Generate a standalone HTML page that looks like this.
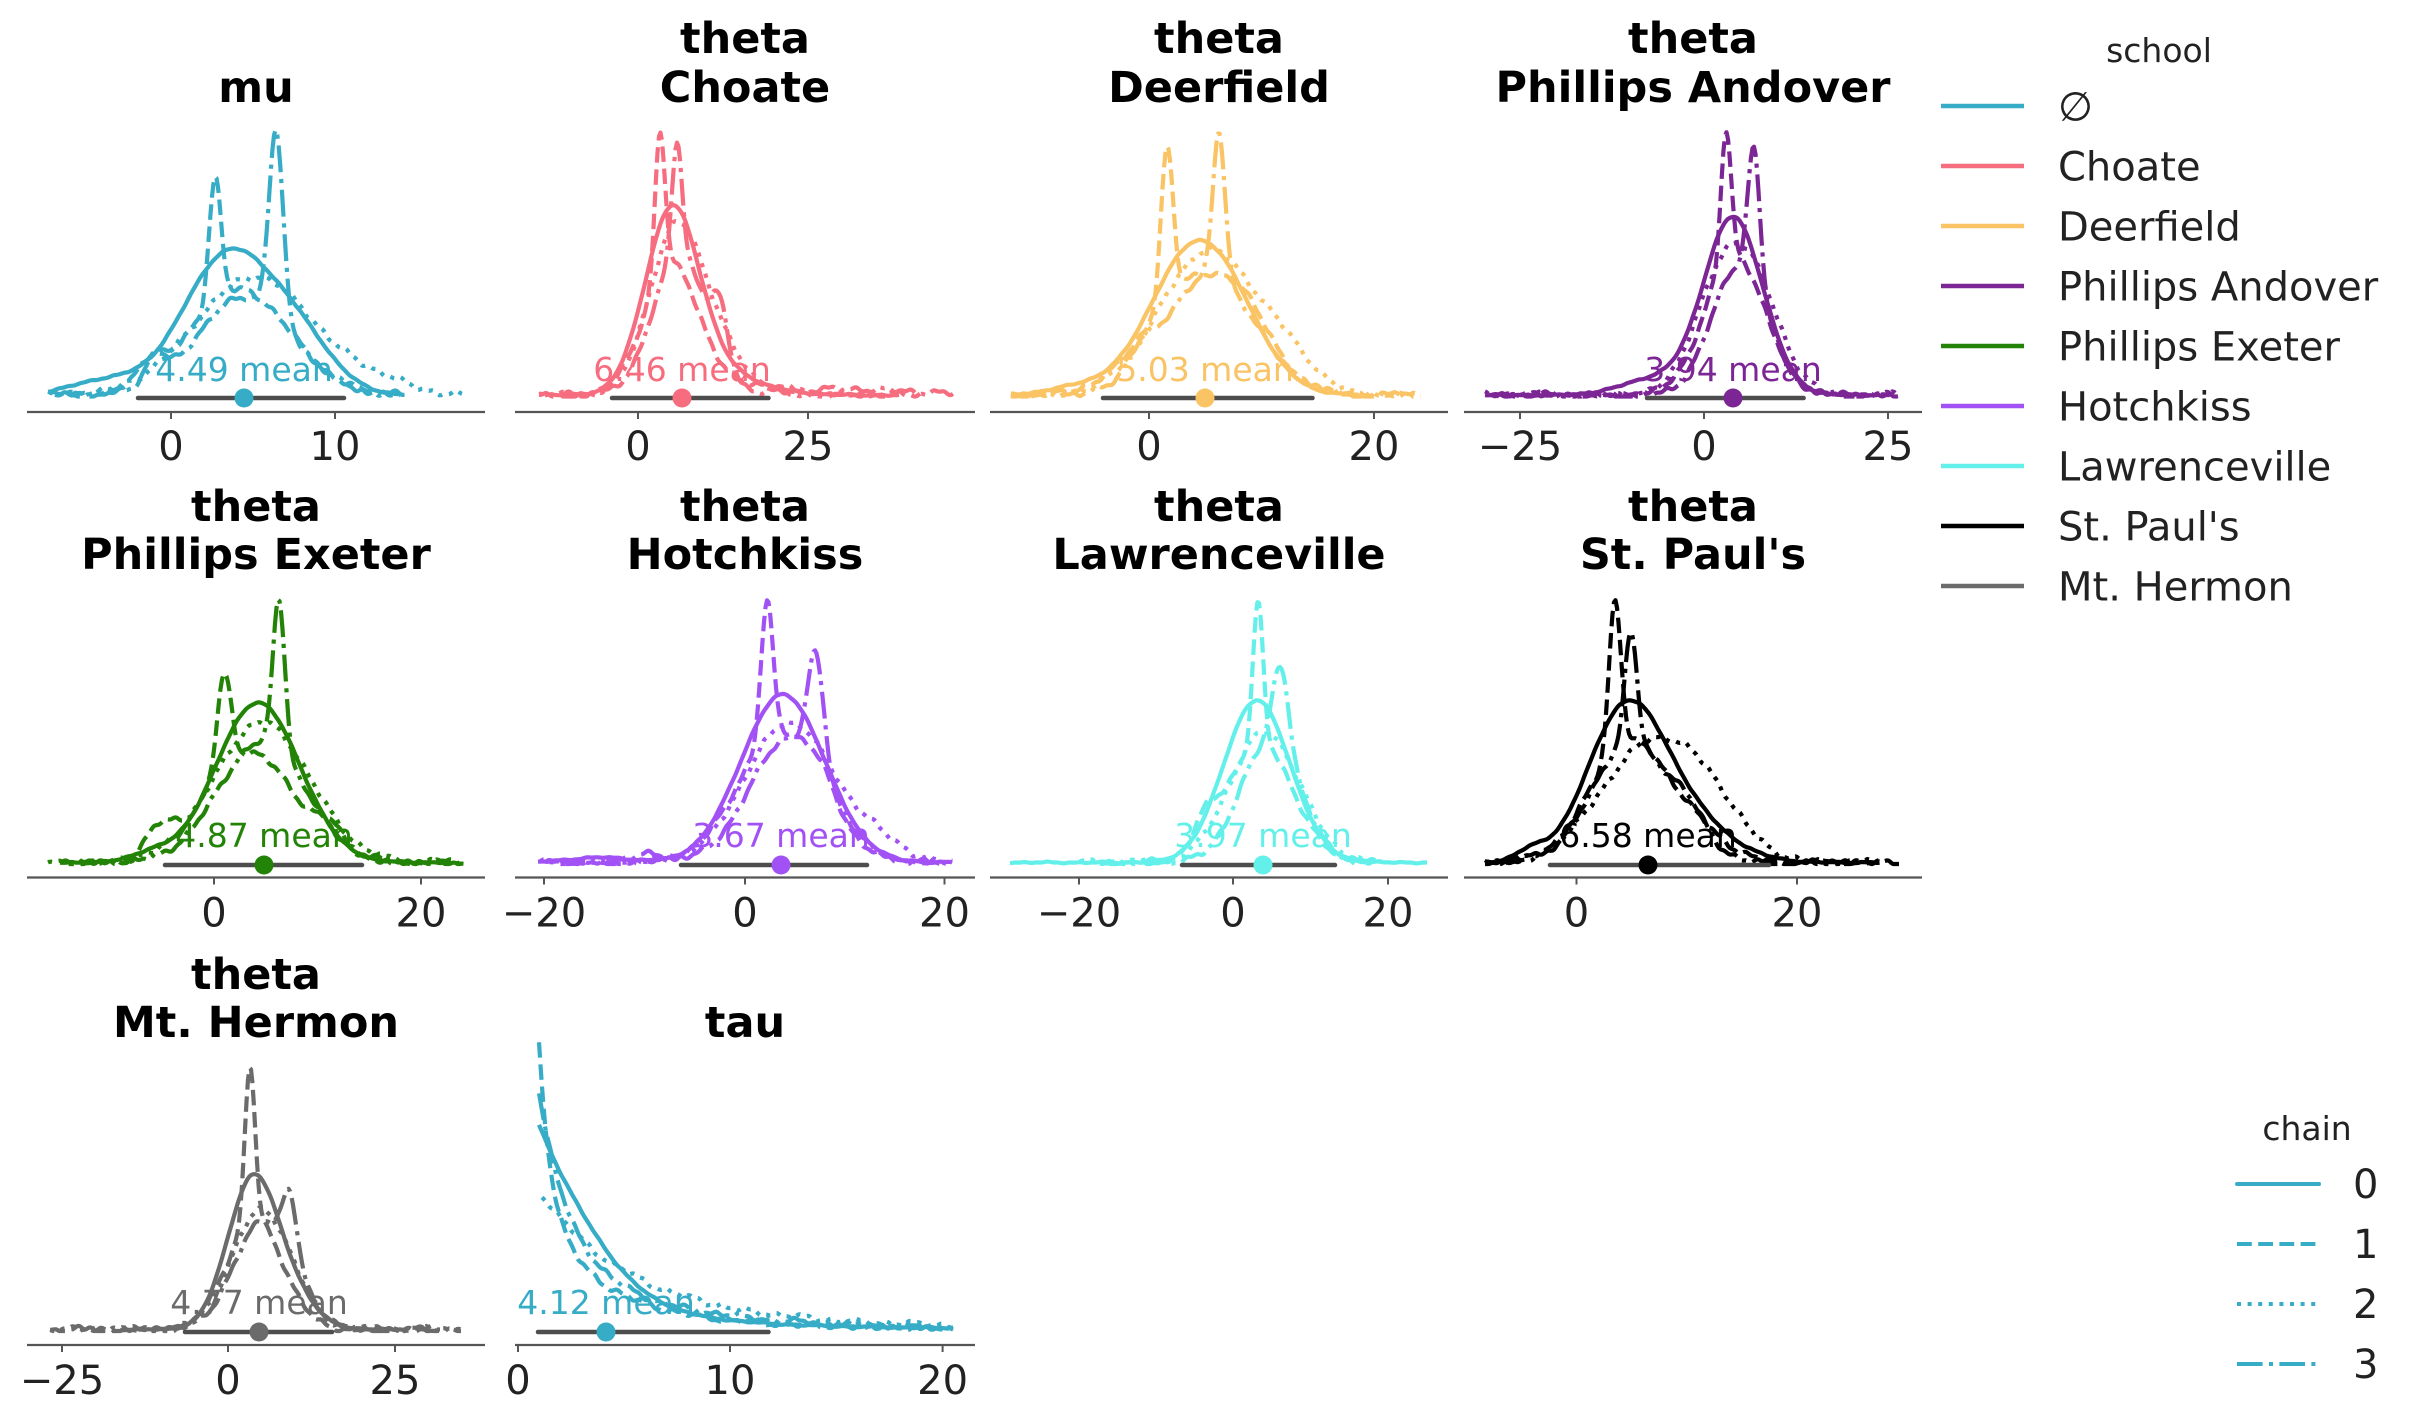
<!DOCTYPE html>
<html>
<head>
<meta charset="utf-8">
<style>
html,body{margin:0;padding:0;background:#fff;}
svg{display:block;}
text{font-family:"DejaVu Sans","Liberation Sans",sans-serif;}
.t{font-weight:bold;font-size:43px;fill:#000;text-anchor:middle;}
.k{font-size:40px;fill:#222;text-anchor:middle;}
.m{font-size:33px;text-anchor:middle;}
.l{font-size:40px;fill:#222;}
.lt{font-size:33px;fill:#222;text-anchor:middle;}
</style>
</head>
<body>
<svg id="c" xmlns="http://www.w3.org/2000/svg" width="2411" height="1423" viewBox="0 0 2411 1423">
<rect width="2411" height="1423" fill="#fff"/>

<!-- Titles -->
<g>
<text class="t" x="256" y="102">mu</text>
<text class="t" x="745" y="53">theta</text><text class="t" x="745" y="102">Choate</text>
<text class="t" x="1219" y="53">theta</text><text class="t" x="1219" y="102">Deerfield</text>
<text class="t" x="1693" y="53">theta</text><text class="t" x="1693" y="102">Phillips Andover</text>

<text class="t" x="256" y="521">theta</text><text class="t" x="256" y="569">Phillips Exeter</text>
<text class="t" x="745" y="521">theta</text><text class="t" x="745" y="569">Hotchkiss</text>
<text class="t" x="1219" y="521">theta</text><text class="t" x="1219" y="569">Lawrenceville</text>
<text class="t" x="1693" y="521">theta</text><text class="t" x="1693" y="569">St. Paul's</text>

<text class="t" x="256" y="989">theta</text><text class="t" x="256" y="1037">Mt. Hermon</text>
<text class="t" x="745" y="1037">tau</text>
</g>

<!-- Axes -->
<g stroke="#555" stroke-width="2.2" fill="none">
<line x1="27" y1="412" x2="485" y2="412"/>
<line x1="515" y1="412" x2="975" y2="412"/>
<line x1="990" y1="412" x2="1448" y2="412"/>
<line x1="1464" y1="412" x2="1922" y2="412"/>
<line x1="27" y1="877.5" x2="485" y2="877.5"/>
<line x1="515" y1="877.5" x2="975" y2="877.5"/>
<line x1="990" y1="877.5" x2="1448" y2="877.5"/>
<line x1="1464" y1="877.5" x2="1922" y2="877.5"/>
<line x1="27" y1="1345" x2="485" y2="1345"/>
<line x1="515" y1="1345" x2="975" y2="1345"/>
</g>
<!-- Tick marks -->
<g stroke="#555" stroke-width="2" fill="none">
<line x1="171" y1="412" x2="171" y2="419"/><line x1="335" y1="412" x2="335" y2="419"/>
<line x1="638" y1="412" x2="638" y2="419"/><line x1="808" y1="412" x2="808" y2="419"/>
<line x1="1149" y1="412" x2="1149" y2="419"/><line x1="1374" y1="412" x2="1374" y2="419"/>
<line x1="1520" y1="412" x2="1520" y2="419"/><line x1="1704" y1="412" x2="1704" y2="419"/><line x1="1888" y1="412" x2="1888" y2="419"/>

<line x1="214" y1="877.5" x2="214" y2="884.5"/><line x1="421" y1="877.5" x2="421" y2="884.5"/>
<line x1="544" y1="877.5" x2="544" y2="884.5"/><line x1="745" y1="877.5" x2="745" y2="884.5"/><line x1="944.5" y1="877.5" x2="944.5" y2="884.5"/>
<line x1="1079" y1="877.5" x2="1079" y2="884.5"/><line x1="1233" y1="877.5" x2="1233" y2="884.5"/><line x1="1388" y1="877.5" x2="1388" y2="884.5"/>
<line x1="1576.5" y1="877.5" x2="1576.5" y2="884.5"/><line x1="1797" y1="877.5" x2="1797" y2="884.5"/>

<line x1="62" y1="1345" x2="62" y2="1352"/><line x1="228" y1="1345" x2="228" y2="1352"/><line x1="395" y1="1345" x2="395" y2="1352"/>
<line x1="518" y1="1345" x2="518" y2="1352"/><line x1="730" y1="1345" x2="730" y2="1352"/><line x1="942.6" y1="1345" x2="942.6" y2="1352"/>
</g>
<!-- Tick labels -->
<g>
<text class="k" x="171" y="460">0</text><text class="k" x="335" y="460">10</text>
<text class="k" x="638" y="460">0</text><text class="k" x="808" y="460">25</text>
<text class="k" x="1149" y="460">0</text><text class="k" x="1374" y="460">20</text>
<text class="k" x="1520" y="460">−25</text><text class="k" x="1704" y="460">0</text><text class="k" x="1888" y="460">25</text>

<text class="k" x="214" y="926.5">0</text><text class="k" x="421" y="926.5">20</text>
<text class="k" x="544" y="926.5">−20</text><text class="k" x="745" y="926.5">0</text><text class="k" x="944.5" y="926.5">20</text>
<text class="k" x="1079" y="926.5">−20</text><text class="k" x="1233" y="926.5">0</text><text class="k" x="1388" y="926.5">20</text>
<text class="k" x="1576.5" y="926.5">0</text><text class="k" x="1797" y="926.5">20</text>

<text class="k" x="62" y="1394">−25</text><text class="k" x="228" y="1394">0</text><text class="k" x="395" y="1394">25</text>
<text class="k" x="518" y="1394">0</text><text class="k" x="730" y="1394">10</text><text class="k" x="942.6" y="1394">20</text>
</g>

<!-- Mean labels -->
<g>
<text class="m" x="244" y="381" fill="#36acc6">4.49 mean</text>
<text class="m" x="682" y="381" fill="#f66d7f">6.46 mean</text>
<text class="m" x="1205" y="381" fill="#fac364">5.03 mean</text>
<text class="m" x="1733" y="381" fill="#7c2695">3.94 mean</text>
<text class="m" x="264" y="847" fill="#228306">4.87 mean</text>
<text class="m" x="781" y="847" fill="#a252f4">3.67 mean</text>
<text class="m" x="1263" y="847" fill="#63f0ea">3.97 mean</text>
<text class="m" x="1648" y="847" fill="#000000">6.58 mean</text>
<text class="m" x="259" y="1314" fill="#6b6b6b">4.77 mean</text>
<text class="m" x="606" y="1314" fill="#36acc6">4.12 mean</text>
</g>

<g id="curves"></g>

<!-- HDI bars -->
<g id="hdi" stroke="#4d4d4d" stroke-width="4.5" stroke-linecap="round">
<line x1="138" y1="398" x2="344" y2="398"/>
<line x1="612" y1="398" x2="768.5" y2="398"/>
<line x1="1103" y1="398" x2="1312.5" y2="398"/>
<line x1="1647" y1="398" x2="1803.6" y2="398"/>
<line x1="165" y1="865" x2="362" y2="865"/>
<line x1="681" y1="865" x2="867" y2="865"/>
<line x1="1182" y1="865" x2="1335" y2="865"/>
<line x1="1550" y1="865" x2="1769" y2="865"/>
<line x1="185" y1="1332" x2="332" y2="1332"/>
<line x1="538" y1="1332" x2="768.5" y2="1332"/>
</g>
<g>
<circle cx="244" cy="398" r="9.5" fill="#36acc6"/>
<circle cx="682" cy="398" r="9.5" fill="#f66d7f"/>
<circle cx="1205" cy="398" r="9.5" fill="#fac364"/>
<circle cx="1733" cy="398" r="9.5" fill="#7c2695"/>
<circle cx="264" cy="865" r="9.5" fill="#228306"/>
<circle cx="781" cy="865" r="9.5" fill="#a252f4"/>
<circle cx="1263" cy="865" r="9.5" fill="#63f0ea"/>
<circle cx="1648" cy="865" r="9.5" fill="#000000"/>
<circle cx="259" cy="1332" r="9.5" fill="#6b6b6b"/>
<circle cx="606" cy="1332" r="9.5" fill="#36acc6"/>
</g>

<!-- School legend -->
<g>
<text class="lt" x="2159" y="62">school</text>
<g stroke-width="4.5">
<line x1="1941" y1="106" x2="2024" y2="106" stroke="#36acc6"/>
<line x1="1941" y1="166" x2="2024" y2="166" stroke="#f66d7f"/>
<line x1="1941" y1="226" x2="2024" y2="226" stroke="#fac364"/>
<line x1="1941" y1="286" x2="2024" y2="286" stroke="#7c2695"/>
<line x1="1941" y1="346" x2="2024" y2="346" stroke="#228306"/>
<line x1="1941" y1="406" x2="2024" y2="406" stroke="#a252f4"/>
<line x1="1941" y1="466" x2="2024" y2="466" stroke="#63f0ea"/>
<line x1="1941" y1="526" x2="2024" y2="526" stroke="#000000"/>
<line x1="1941" y1="586" x2="2024" y2="586" stroke="#6b6b6b"/>
</g>
<text class="l" x="2058" y="120.5">∅</text>
<text class="l" x="2058" y="180.5">Choate</text>
<text class="l" x="2058" y="240.5">Deerfield</text>
<text class="l" x="2058" y="300.5">Phillips Andover</text>
<text class="l" x="2058" y="360.5">Phillips Exeter</text>
<text class="l" x="2058" y="420.5">Hotchkiss</text>
<text class="l" x="2058" y="480.5">Lawrenceville</text>
<text class="l" x="2058" y="540.5">St. Paul's</text>
<text class="l" x="2058" y="600.5">Mt. Hermon</text>
</g>

<!-- Chain legend -->
<g>
<text class="lt" x="2307" y="1140">chain</text>
<g stroke="#36acc6" stroke-width="4">
<line x1="2237" y1="1184" x2="2319" y2="1184" stroke-linecap="round"/>
<line x1="2237" y1="1244" x2="2319" y2="1244" stroke-dasharray="14.8 6.4"/>
<line x1="2237" y1="1304" x2="2319" y2="1304" stroke-dasharray="4 6.6"/>
<line x1="2237" y1="1364" x2="2319" y2="1364" stroke-dasharray="25.6 6.4 4 6.4"/>
</g>
<text class="l" x="2353" y="1198">0</text>
<text class="l" x="2353" y="1258">1</text>
<text class="l" x="2353" y="1318">2</text>
<text class="l" x="2353" y="1378">3</text>
</g>
</svg>

<script>
(function(){
var NS="http://www.w3.org/2000/svg";
var grp=document.getElementById('curves');
var dashes=[null,"15.5 6.7","4.2 6.9","26.9 6.7 4.2 6.7"];
function g(x,c,s,h){return h*Math.exp(-(x-c)*(x-c)/(2*s*s));}
function e(x,x0,L,h){return x<x0?0:h*Math.exp(-(x-x0)/L);}
var P=[
 {c:"#36acc6",b:395,cv:[
   {a:48,b:402,g:[[228,45,140],[300,35,45],[105,35,14]]},
   {a:50,b:400,g:[[240,50,105],[215,6,125],[150,12,20]]},
   {a:48,b:462,g:[[255,60,118],[380,30,10]]},
   {a:55,b:405,g:[[245,48,98],[276,7,185],[155,10,25]]}]},
 {c:"#f66d7f",b:395,cv:[
   {a:545,b:900,g:[[672,27,180],[720,40,20]]},
   {a:539,b:920,g:[[672,28,130],[660,5,145],[760,30,10]]},
   {a:539,b:900,g:[[678,28,170],[730,25,25]]},
   {a:560,b:953,g:[[680,27,140],[677,5,115],[720,8,50],[850,60,6]]}]},
 {c:"#fac364",b:395,cv:[
   {a:1011,b:1360,g:[[1178,40,90],[1222,40,90],[1080,30,8]]},
   {a:1011,b:1421,g:[[1200,50,120],[1167,6,150],[1250,20,25]]},
   {a:1011,b:1421,g:[[1210,50,145],[1290,25,20]]},
   {a:1020,b:1400,g:[[1210,45,120],[1219,6,145],[1140,12,20]]}]},
 {c:"#7c2695",b:395,cv:[
   {a:1485,b:1880,g:[[1733,30,178],[1650,30,15]]},
   {a:1500,b:1890,g:[[1735,30,140],[1726,5,130]]},
   {a:1485,b:1899,g:[[1740,32,150],[1700,20,20]]},
   {a:1490,b:1899,g:[[1740,28,130],[1754,6,132]]}]},
 {c:"#228306",b:862.5,cv:[
   {a:60,b:450,g:[[258,42,160],[150,20,8]]},
   {a:60,b:464,g:[[250,45,110],[224,7,95],[160,15,25],[330,15,20]]},
   {a:48,b:464,g:[[262,48,140]]},
   {a:80,b:460,g:[[262,44,120],[279,6,153]]}]},
 {c:"#a252f4",b:862.5,cv:[
   {a:538,b:953,g:[[783,42,168],[600,30,5]]},
   {a:545,b:940,g:[[780,42,130],[767,6,136],[820,15,20]]},
   {a:540,b:953,g:[[790,45,140],[880,25,15]]},
   {a:560,b:940,g:[[790,40,125],[816,8,107],[650,20,8]]}]},
 {c:"#63f0ea",b:862.5,cv:[
   {a:1010,b:1427,g:[[1254,32,150],[1285,30,20]]},
   {a:1100,b:1380,g:[[1260,33,120],[1258,5,140],[1205,12,25]]},
   {a:1080,b:1390,g:[[1265,35,130]]},
   {a:1100,b:1380,g:[[1270,30,120],[1281,8,85]]}]},
 {c:"#000000",b:862.5,cv:[
   {a:1485,b:1880,g:[[1624,38,140],[1680,45,45],[1530,15,10]]},
   {a:1485,b:1899,g:[[1630,40,120],[1615,6,150],[1700,30,20]]},
   {a:1485,b:1880,g:[[1650,50,115],[1710,35,35]]},
   {a:1500,b:1870,g:[[1630,38,120],[1631,6,110],[1690,20,30]]}]},
 {c:"#6b6b6b",b:1329.5,cv:[
   {a:120,b:400,g:[[252,25,145],[290,25,30]]},
   {a:50,b:440,g:[[255,28,110],[250,5,155]]},
   {a:50,b:462,g:[[262,30,120]]},
   {a:80,b:462,g:[[265,30,110],[290,7,60]]}]},
 {c:"#36acc6",b:1329.5,cv:[
   {a:539,b:953,e:[[539,55,150],[539,200,12]],g:[[555,50,45]]},
   {a:539,b:953,e:[[539,12,170],[539,60,95],[539,150,20]]},
   {a:542,b:953,e:[[542,90,120],[542,250,15]]},
   {a:539,b:953,e:[[539,30,170],[539,120,68]]}]}
];
P.forEach(function(pn,pi){
  pn.cv.forEach(function(cv,i){
    var d="";
    for(var x=cv.a;x<=cv.b+0.01;x+=1.5){
      var h=0;
      (cv.g||[]).forEach(function(p){h+=g(x,p[0],p[1],p[2]);});
      (cv.e||[]).forEach(function(p){h+=e(x,p[0],p[1],p[2]);});
      var amp=(i==0)?0.8:3.2;
      var n=amp*(Math.sin(x*0.23+i*1.7+pi*0.9)*0.55+Math.sin(x*0.57+i*2.9+pi*1.3)*0.3+Math.sin(x*0.11+i*0.7+pi*2.1)*0.35);
      var y=pn.b-h-n;
      if(y>pn.b+1.5)y=pn.b+1.5;
      d+=(d?"L":"M")+x.toFixed(1)+" "+y.toFixed(1);
    }
    var p=document.createElementNS(NS,"path");
    p.setAttribute("d",d);
    p.setAttribute("fill","none");
    p.setAttribute("stroke",pn.c);
    p.setAttribute("stroke-width","4.2");
    p.setAttribute("stroke-linejoin","round");
    if(dashes[i])p.setAttribute("stroke-dasharray",dashes[i]);
    grp.appendChild(p);
  });
});
})();
</script>
</body>
</html>
